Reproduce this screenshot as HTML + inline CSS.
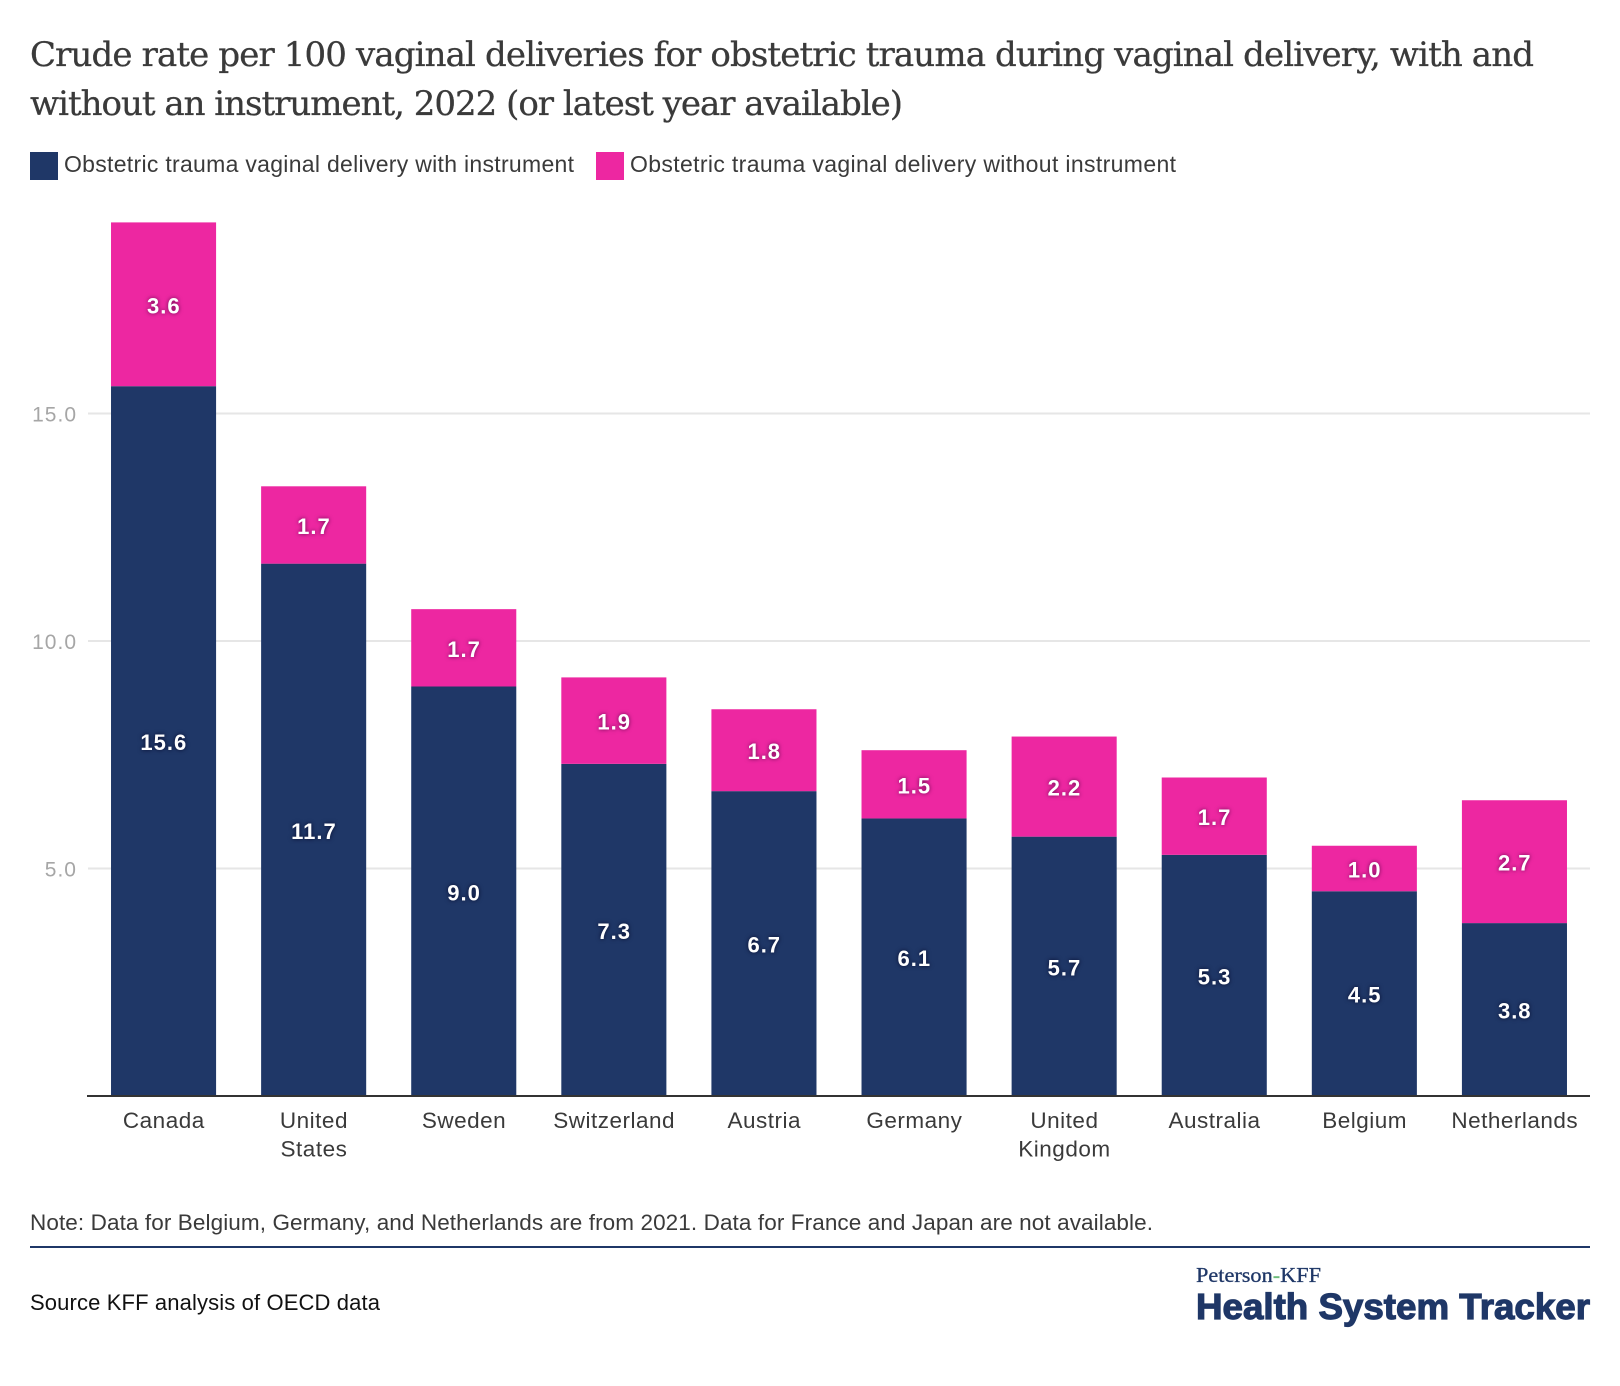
<!DOCTYPE html>
<html lang="en">
<head>
<meta charset="utf-8">
<title>Obstetric trauma during vaginal delivery</title>
<style>
  html, body { margin: 0; padding: 0; background: #ffffff; }
  body { width: 1620px; height: 1386px; overflow: hidden; }
  svg { display: block; }
  .sans { font-family: "Liberation Sans", Arial, sans-serif; }
  .serif { font-family: "DejaVu Serif", "Liberation Serif", serif; }
  .seglabel { font-family: "Liberation Sans", Arial, sans-serif; font-weight: 700; font-size: 22px; fill: #ffffff; letter-spacing: 1px; text-anchor: middle; }
  .seglabel-pink { filter: drop-shadow(0 0 2px rgba(70,0,60,.8)); }
  .seglabel-navy { filter: drop-shadow(0 0 2px rgba(0,0,30,.8)); }
</style>
</head>
<body>
<svg id="chart" width="1620" height="1386" viewBox="0 0 1620 1386" xmlns="http://www.w3.org/2000/svg">
  <rect x="0" y="0" width="1620" height="1386" fill="#ffffff"/>

  <text class="serif" x="30" y="66" font-size="34" fill="#3a3a3a" stroke="#3a3a3a" stroke-width="0.3" textLength="1504" lengthAdjust="spacing">Crude rate per 100 vaginal deliveries for obstetric trauma during vaginal delivery, with and</text>
  <text class="serif" x="30" y="115" font-size="34" fill="#3a3a3a" stroke="#3a3a3a" stroke-width="0.3" textLength="873" lengthAdjust="spacing">without an instrument, 2022 (or latest year available)</text>

  <rect x="30" y="152" width="28" height="28" fill="#1f3767"/>
  <text class="sans" x="64" y="172" font-size="23" fill="#3a3a3a" textLength="510">Obstetric trauma vaginal delivery with instrument</text>
  <rect x="596" y="152" width="28" height="28" fill="#ed27a1"/>
  <text class="sans" x="630" y="172" font-size="23" fill="#3a3a3a" textLength="546">Obstetric trauma vaginal delivery without instrument</text>

  <g id="grid"></g>
  <g id="bars"></g>
  <g id="xaxis"></g>

  <text class="sans" x="30" y="1230" font-size="22.5" fill="#3a3a3a" textLength="1123">Note: Data for Belgium, Germany, and Netherlands are from 2021. Data for France and Japan are not available.</text>
  <rect x="30" y="1246" width="1560" height="2" fill="#1f3767"/>
  <text class="sans" x="30" y="1310" font-size="22" fill="#111111" textLength="350">Source KFF analysis of OECD data</text>

  <text x="1196" y="1282" font-family="'Liberation Serif', serif" font-size="21" fill="#1f3767" stroke="#1f3767" stroke-width="0.3" textLength="125" lengthAdjust="spacingAndGlyphs">Peterson<tspan fill="#6dbb7a" stroke="#6dbb7a">-</tspan>KFF</text>
  <text class="sans" x="1196" y="1319" font-size="36" font-weight="700" fill="#1f3767" stroke="#1f3767" stroke-width="1.2" textLength="394" lengthAdjust="spacingAndGlyphs">Health System Tracker</text>
</svg>

<script>
const categories = ["Canada", "United States", "Sweden", "Switzerland", "Austria", "Germany", "United Kingdom", "Australia", "Belgium", "Netherlands"];
const withInstrument = [15.6, 11.7, 9.0, 7.3, 6.7, 6.1, 5.7, 5.3, 4.5, 3.8];
const withoutInstrument = [3.6, 1.7, 1.7, 1.9, 1.8, 1.5, 2.2, 1.7, 1.0, 2.7];
const yTicks = [5, 10, 15];

const NS = "http://www.w3.org/2000/svg";
const plotLeft = 88.5;
const plotRight = 1589.5;
const baseY = 1096;
const pxPerUnit = 45.5;
const step = (plotRight - plotLeft) / categories.length;
const barWidth = step * 0.7;

function yScale(v) { return baseY - v * pxPerUnit; }
function xCenter(i) { return plotLeft + step * (i + 0.5); }

function make(tag, attrs, parent) {
  const el = document.createElementNS(NS, tag);
  for (const k in attrs) el.setAttribute(k, attrs[k]);
  parent.appendChild(el);
  return el;
}

const grid = document.getElementById("grid");
const bars = document.getElementById("bars");
const xaxis = document.getElementById("xaxis");

yTicks.forEach(function (t) {
  const line = make("rect", { x: 88, y: yScale(t) - 1, width: 1502, height: 2, fill: "#e6e6e6" }, grid);
  
  
  const label = make("text", { x: 77, y: yScale(t) + 8, "text-anchor": "end", "font-size": 21, fill: "#a6a6a6", "letter-spacing": "1", class: "sans" }, grid);
  
  
  label.textContent = t.toFixed(1);
});

categories.forEach(function (name, i) {
  const a = withInstrument[i];
  const b = withoutInstrument[i];
  const cx = xCenter(i) + 0.3;
  const left = xCenter(i) - barWidth / 2;

  const navy = make("rect", { x: left, y: yScale(a), width: barWidth, height: a * pxPerUnit, fill: "#1f3767" }, bars);
  
  

  const pink = make("rect", { x: left, y: yScale(a + b), width: barWidth, height: b * pxPerUnit, fill: "#ed27a1" }, bars);
  
  

  const navyLabel = make("text", { x: cx, y: yScale(a / 2) + 9, class: "seglabel seglabel-navy" }, bars);
  
  
  navyLabel.textContent = a.toFixed(1);

  const pinkLabel = make("text", { x: cx, y: yScale(a + b / 2) + 9, class: "seglabel seglabel-pink" }, bars);
  
  
  pinkLabel.textContent = b.toFixed(1);

  const cat = make("text", { x: cx, "text-anchor": "middle", "font-size": 22.5, fill: "#3a3a3a", "letter-spacing": "0.5", class: "sans" }, xaxis);
  
  
  name.split(" ").forEach(function (word, j) {
    const span = make("tspan", { x: cx, y: 1128 + j * 28.5 }, cat);
    span.textContent = word;
  });
});

const axisLine = make("rect", { x: 87, y: 1095, width: 1503, height: 2, fill: "#333333" }, xaxis);


</script>
</body>
</html>
